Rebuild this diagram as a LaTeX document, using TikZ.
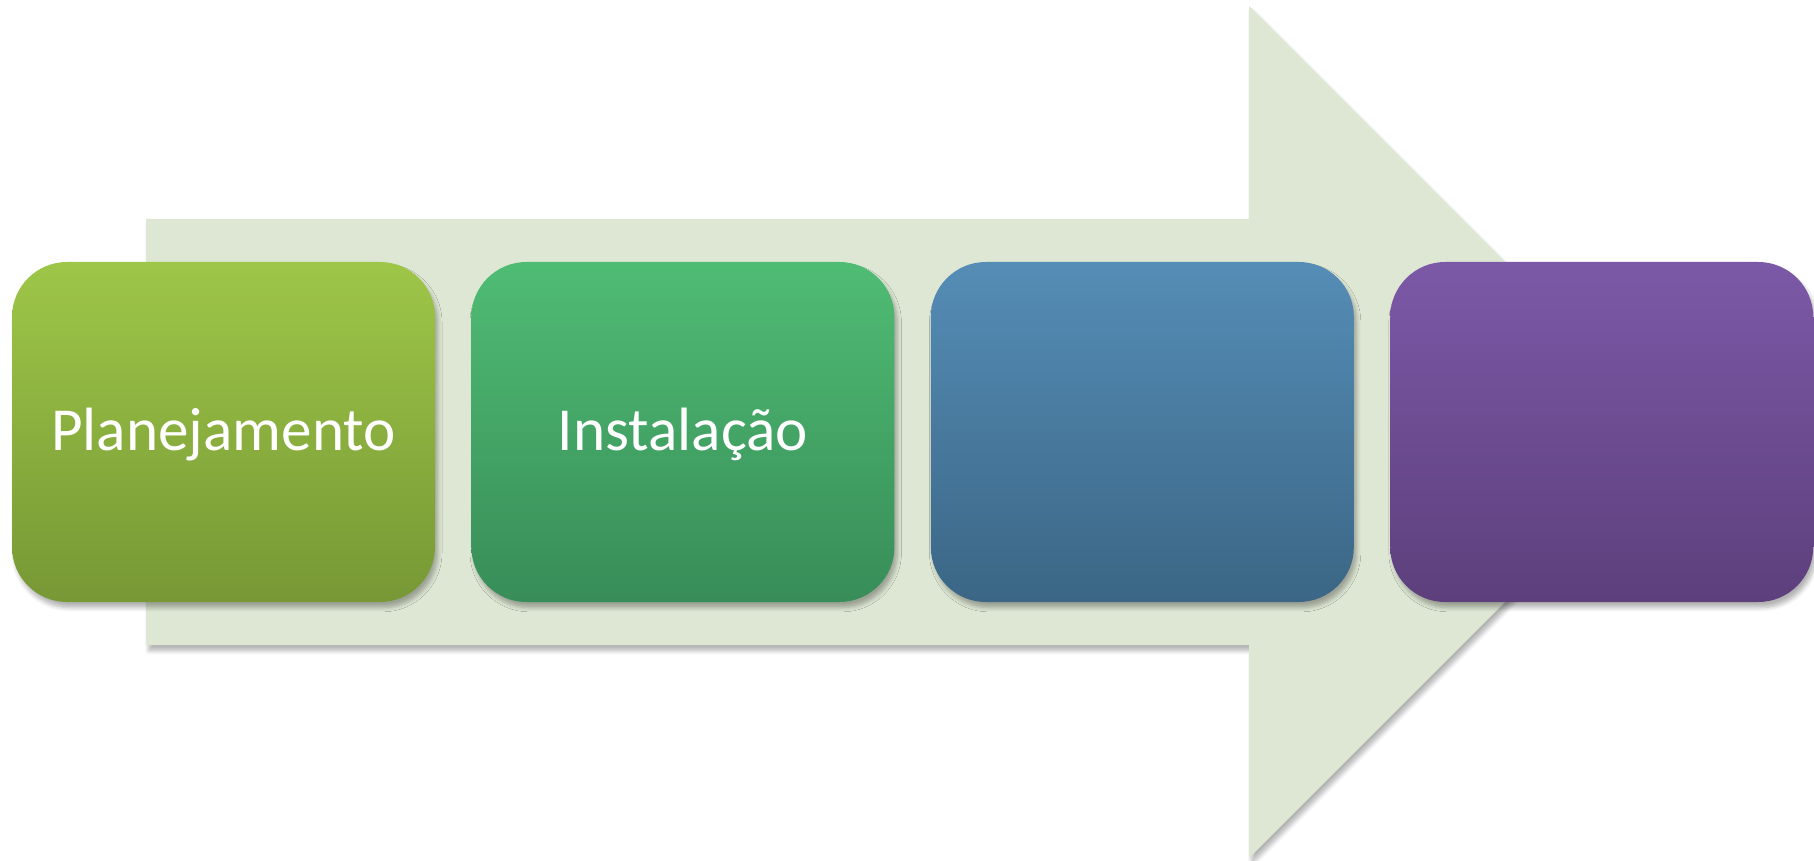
\documentclass[tikz,border=0pt]{standalone}
\usepackage{fontspec}
\setmainfont{Carlito}
\usetikzlibrary{positioning,shadows.blur}

\definecolor{setaverde}{HTML}{DEE7D4}
\definecolor{verdeA}{HTML}{9EC648}
\definecolor{verdeB}{HTML}{779835}
\definecolor{verdeC}{HTML}{4FBC74}
\definecolor{verdeD}{HTML}{388D58}
\definecolor{azulA}{HTML}{558DB6}
\definecolor{azulB}{HTML}{3B6685}
\definecolor{roxoA}{HTML}{7C59A7}
\definecolor{roxoB}{HTML}{5D3F7C}

\begin{document}
\begin{tikzpicture}[
  sombra/.style={blur shadow={shadow xshift=0.8pt, shadow yshift=-1.6pt, shadow blur radius=1.2pt, shadow blur steps=6, shadow opacity=30}},
  etapa/.style={sombra, rounded corners=0.55cm, minimum width=4.23cm, minimum height=3.4cm,
    inner sep=0pt, text height=0.48cm, text depth=0.12cm, text=white,
    font=\fontsize{17.4}{20}\selectfont, shading=axis},
]
\useasboundingbox (0,0) rectangle (18.14,-8.61);
\def\yc{-4.32}
\def\gap{0.35cm}
% seta de fundo
\fill[setaverde, sombra] (1.46,-2.19) -- (12.49,-2.19) -- (12.49,-0.06) -- (16.75,\yc)
  -- (12.49,-8.58) -- (12.49,-6.45) -- (1.46,-6.45) -- cycle;
% etapas
\node[etapa, top color=verdeA, bottom color=verdeB] (plan) at (2.235,\yc) {Planejamento};
\node[etapa, top color=verdeC, bottom color=verdeD, right=\gap of plan] (inst) {Instalação};
\node[etapa, top color=azulA, bottom color=azulB, right=\gap of inst] (terc) {};
\node[etapa, top color=roxoA, bottom color=roxoB, right=\gap of terc] (quar) {};
\end{tikzpicture}
\end{document}
